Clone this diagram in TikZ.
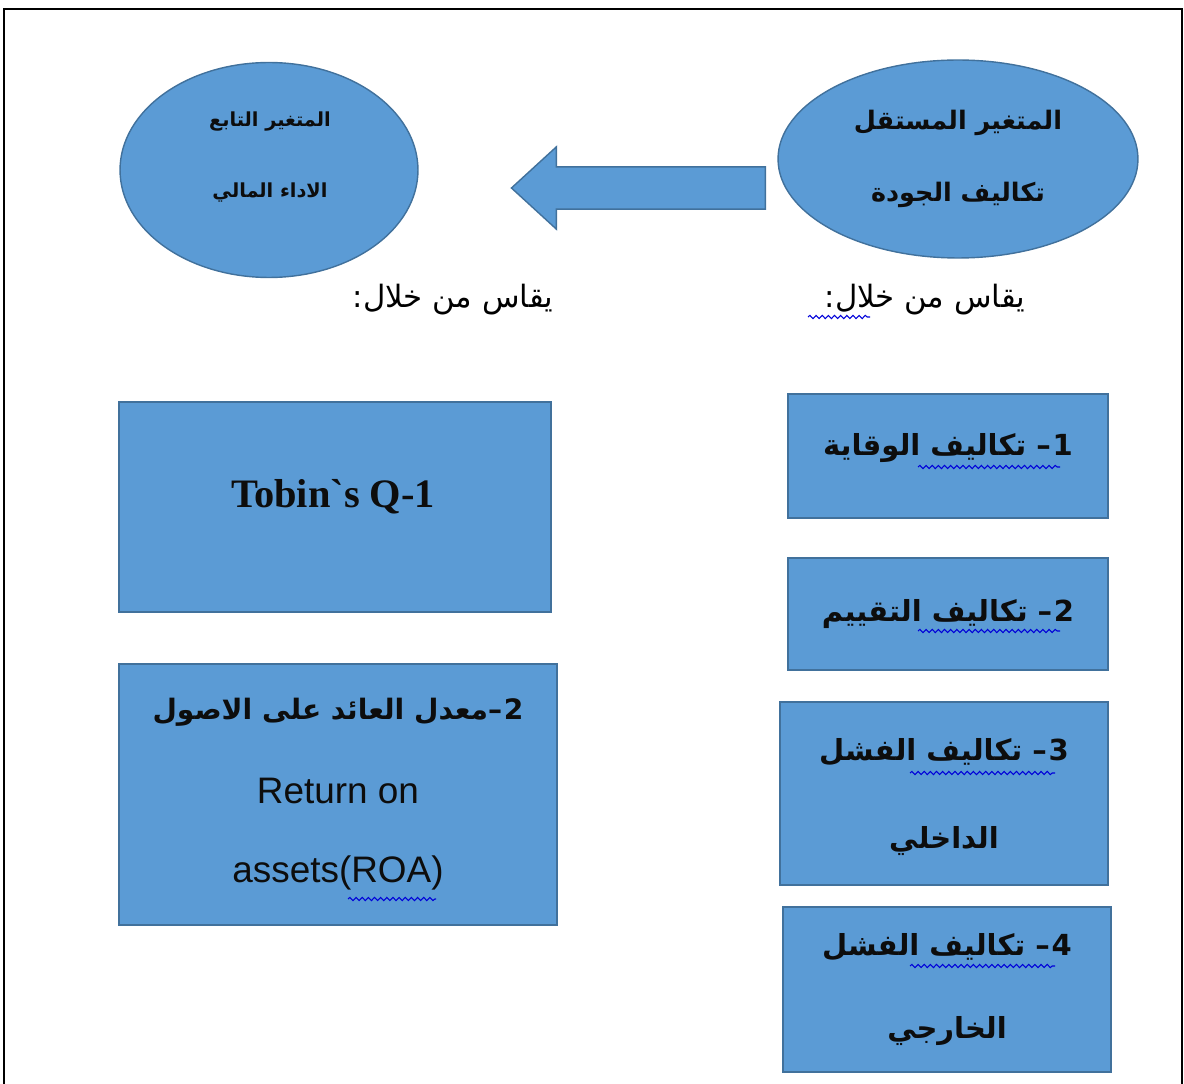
\documentclass[tikz,border=0pt]{standalone}
\usepackage{fontspec}
\setmainfont{Liberation Sans}
\newfontfamily\arabicfont[Script=Arabic]{DejaVu Sans}
\newfontfamily\timesfont{Liberation Serif}
\TeXXeTstate=1
\usetikzlibrary{shapes.geometric,shapes.arrows,positioning,decorations.pathmorphing}

\definecolor{boxblue}{HTML}{5B9BD5}
\definecolor{boxedge}{HTML}{41719C}
\definecolor{txtdark}{HTML}{0D0D0D}

% arabic line, right to left
\newcommand{\artxt}[1]{{\arabicfont\bfseries\beginR #1\endR}}
\newcommand{\arplain}[1]{{\arabicfont\beginR #1\endR}}
\newcommand{\numdash}[1]{\hbox{#1}\kern1pt\hbox{–}}

\tikzset{
  varell/.style={ellipse, draw=boxedge, fill=boxblue, line width=0.8pt, align=center, text=txtdark},
  measbox/.style={rectangle, draw=boxedge, fill=boxblue, line width=0.8pt, align=center, text=txtdark},
  bigarrow/.style={single arrow, draw=boxedge, fill=boxblue, line width=0.8pt, shape border rotate=180,
    minimum height=5.08cm, single arrow head extend=0.4cm, single arrow tip angle=85, inner sep=0pt,
    inner ysep=0.41cm},
  byline/.style={font=\fontsize{17.5}{21}\selectfont},
  spell/.style={draw=blue!85!black, line width=0.6pt, decorate, decoration={snake, amplitude=0.9pt, segment length=3.5pt}}
}

\begin{document}
\begin{tikzpicture}[x=0.02cm, y=-0.02cm]
  \useasboundingbox (0,0) rectangle (1184,1084);

  % frame
  \draw[line width=1.2pt] (4,1084) -- (4,9) -- (1182,9) -- (1182,1084);

  % variables
  \node[varell, minimum width=5.96cm, minimum height=4.3cm] (dep) at (269,170) {};
  \node[font=\fontsize{11}{13}\selectfont, align=center, text=txtdark] (deptxt) at (270,157)
    {\artxt{المتغير التابع}\\[0.95cm]\artxt{الاداء المالي}};
  \node[varell, minimum width=7.2cm, minimum height=3.96cm, font=\fontsize{14.5}{17}\selectfont] (indep) at (958,159)
    {\artxt{المتغير المستقل}\\[0.85cm]\artxt{تكاليف الجودة}};

  \node[bigarrow] (arr) at (650,188) {};

  % measured by
  \node[byline] (bydep) at (453,300) {\arplain{يقاس من خلال:}};
  \node[byline] (byindep) at (925,300) {\arplain{يقاس من خلال:}};
  \draw[spell] (808,317) -- (870,317);

  % dependent measures
  \node[measbox, minimum width=8.64cm, minimum height=4.2cm] (tq) at (335,507) {};
  \node[text=txtdark] (tqtxt) at (333,497)
    {\timesfont\bfseries\fontsize{23}{27}\selectfont Tobin`s Q-1};
  \node[measbox, minimum width=8.76cm, minimum height=5.22cm] (roa) at (338,794.5)
    {\fontsize{16}{19}\selectfont\artxt{\numdash{2}معدل العائد على الاصول}\\[1.0cm]
     \fontsize{21}{24}\selectfont Return on\\[1.0cm]\fontsize{21}{24}\selectfont assets(ROA)};
  \draw[spell] (348,899) -- (436,899);

  % independent measures
  \node[measbox, minimum width=6.4cm, minimum height=2.48cm] (c1) at (948,456) {};
  \node[font=\fontsize{16.5}{19}\selectfont, text=txtdark] (c1txt) at (948,448)
    {\artxt{\numdash{1} تكاليف الوقاية}};
  \node[measbox, minimum width=6.4cm, minimum height=2.24cm, font=\fontsize{16.5}{19}\selectfont] (c2) at (948,614)
    {\artxt{\numdash{2} تكاليف التقييم}};
  \node[measbox, minimum width=6.56cm, minimum height=3.66cm] (c3) at (944,793.5) {};
  \node[font=\fontsize{16.5}{19}\selectfont, align=center, text=txtdark] (c3txt) at (944,797)
    {\artxt{\numdash{3} تكاليف الفشل}\\[1.1cm]\artxt{الداخلي}};
  \node[measbox, minimum width=6.56cm, minimum height=3.3cm, font=\fontsize{16.5}{19}\selectfont] (c4) at (947,989.5)
    {\artxt{\numdash{4} تكاليف الفشل}\\[1.0cm]\artxt{الخارجي}};

  % spelling marks
  \draw[spell] (918,467) -- (1060,467);
  \draw[spell] (918,631) -- (1060,631);
  \draw[spell] (910,773) -- (1055,773);
  \draw[spell] (910,966) -- (1055,966);
\end{tikzpicture}
\end{document}
